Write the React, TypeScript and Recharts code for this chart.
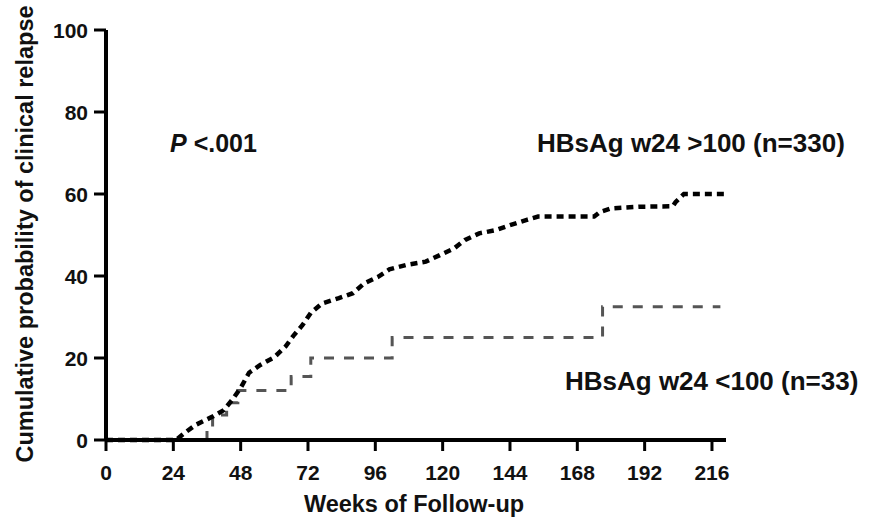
import { LineChart, Line, XAxis, YAxis } from 'recharts';

const FONT = '"Liberation Sans", Arial, Helvetica, sans-serif';

// HBsAg w24 >100 (n=330) - cumulative relapse (%)
const highWeeks = [0, 25, 28, 32, 38, 42, 45, 48, 51, 55, 60, 64, 67, 70, 73, 77, 83, 88, 92, 97, 101, 107, 114, 119, 124, 128, 133, 139, 144, 150, 154, 174, 176, 180, 190, 202, 203, 206, 221];
const highRisk = [0, 0, 1.7, 3.7, 5.7, 7.3, 9.8, 12.7, 16.4, 18.3, 20.2, 22.8, 25.6, 28, 31, 33.3, 34.6, 35.8, 38.2, 39.8, 41.6, 42.7, 43.5, 45.1, 46.7, 48.8, 50.4, 51.2, 52.4, 53.7, 54.5, 54.5, 55.6, 56.5, 56.9, 57, 58, 60, 60];

// HBsAg w24 <100 (n=33)
const lowWeeks = [0, 36, 38, 43, 47, 66, 73, 102, 177, 219];
const lowRisk = [0, 3, 6.1, 9.1, 12.1, 15.5, 20, 25, 32.5, 32.5];

const xTicks = [0, 24, 48, 72, 96, 120, 144, 168, 192, 216];
const yTicks = [0, 20, 40, 60, 80, 100];

const highData = highWeeks.map((w, i) => ({ week: w, risk: highRisk[i] }));
const lowData = lowWeeks.map((w, i) => ({ week: w, risk: lowRisk[i] }));

const MARGIN = { top: 30, right: 150, left: 46, bottom: 43 };
const Y_AXIS_W = 60;
const X_AXIS_H = 40;
const AXIS_X = MARGIN.left + Y_AXIS_W; // 106
const AXIS_Y = 523 - MARGIN.bottom - X_AXIS_H; // 440

const labelProps = { fill: '#111', fontSize: 21, fontWeight: 700, fontFamily: FONT };

function YTick(props: any) {
  const y = props.payload.coordinate;
  return (
    <g>
      <line x1={AXIS_X - 12} x2={AXIS_X} y1={y} y2={y} stroke="#000" strokeWidth={3} />
      <text x={AXIS_X - 18} y={y} dy="0.36em" textAnchor="end" {...labelProps}>
        {props.payload.value}
      </text>
    </g>
  );
}

function XTick(props: any) {
  const x = props.payload.coordinate;
  return (
    <g>
      <line x1={x} x2={x} y1={AXIS_Y} y2={AXIS_Y + 11} stroke="#000" strokeWidth={3} />
      <text x={x} y={AXIS_Y + 40} textAnchor="middle" {...labelProps}>
        {props.payload.value}
      </text>
    </g>
  );
}

export default function App() {
  return (
    <div style={{ position: 'absolute', left: 0, top: 0, width: 876, height: 523, background: '#fff' }}>
      <LineChart width={876} height={523} margin={MARGIN}>
        <XAxis
          dataKey="week"
          type="number"
          domain={[0, 221]}
          ticks={xTicks}
          allowDataOverflow
          height={X_AXIS_H}
          axisLine={{ stroke: '#000', strokeWidth: 4 }}
          tickLine={false}
          tick={<XTick />}
        />
        <YAxis
          type="number"
          domain={[0, 100]}
          ticks={yTicks}
          width={Y_AXIS_W}
          axisLine={{ stroke: '#000', strokeWidth: 4 }}
          tickLine={false}
          tick={<YTick />}
        />
        <Line
          data={lowData}
          dataKey="risk"
          type="stepAfter"
          stroke="#555"
          strokeWidth={3}
          strokeDasharray="10 10"
          dot={false}
          isAnimationActive={false}
        />
        <Line
          data={highData}
          dataKey="risk"
          type="linear"
          stroke="#000"
          strokeWidth={4.5}
          strokeDasharray="7 5"
          dot={false}
          isAnimationActive={false}
        />
      </LineChart>
      <svg width={876} height={523} style={{ position: 'absolute', left: 0, top: 0, pointerEvents: 'none' }}>
        <text
          x={25}
          y={234}
          transform="rotate(-90 25 234)"
          textAnchor="middle"
          dominantBaseline="central"
          fontFamily={FONT}
          fontWeight={700}
          fontSize={23.5}
          fill="#111"
        >
          Cumulative probability of clinical relapse
        </text>
        <text x={414} y={512} textAnchor="middle" fontFamily={FONT} fontWeight={700} fontSize={23.5} fill="#111">
          Weeks of Follow-up
        </text>
        <text x={170} y={152} fontFamily={FONT} fontWeight={700} fontSize={25} fill="#111">
          <tspan fontStyle="italic">P</tspan> &lt;.001
        </text>
        <text x={537} y={152} fontFamily={FONT} fontWeight={700} fontSize={26} fill="#111">
          HBsAg w24 &gt;100 (n=330)
        </text>
        <text x={565} y={390} fontFamily={FONT} fontWeight={700} fontSize={26} fill="#111">
          HBsAg w24 &lt;100 (n=33)
        </text>
      </svg>
    </div>
  );
}
